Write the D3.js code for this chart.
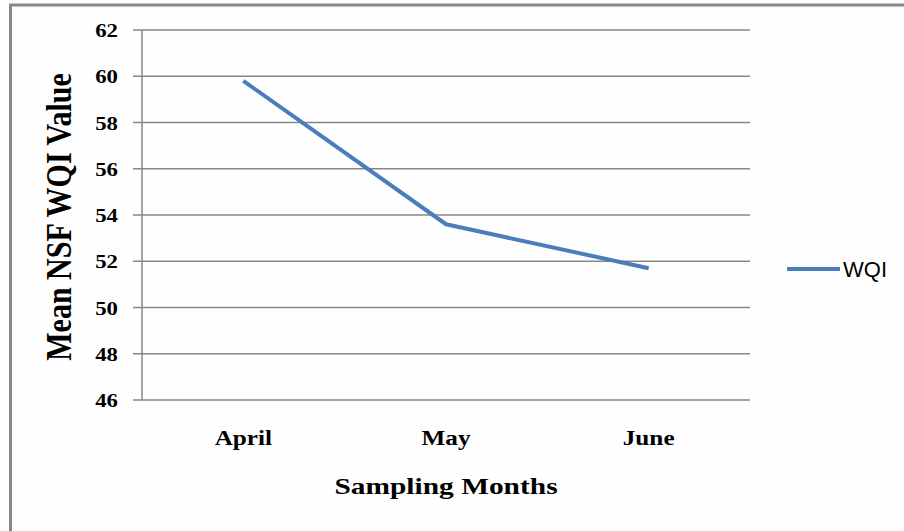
<!DOCTYPE html>
<html>
<head>
<meta charset="utf-8">
<script src="https://cdn.jsdelivr.net/npm/d3@7"></script>
<style>
  body { margin: 0; background: #fefefe; }
  svg { display: block; }
</style>
</head>
<body>
<div id="chart"></div>
<script>
var months = ["April", "May", "June"];
var wqiValues = [59.8, 53.6, 51.7];
var yTicks = [46, 48, 50, 52, 54, 56, 58, 60, 62];
var seriesName = "WQI";

var svgWidth = 904;
var svgHeight = 531;

var plot = { left: 142, right: 750, top: 30, bottom: 400 };

var svg = d3.select("#chart")
  .append("svg")
  .attr("width", svgWidth)
  .attr("height", svgHeight);

// outer frame (only top and left edges show)
svg.append("line")
  .attr("x1", 9).attr("x2", svgWidth).attr("y1", 5).attr("y2", 5)
  .attr("stroke", "#888").attr("stroke-width", 3);
svg.append("line")
  .attr("x1", 10.5).attr("x2", 10.5).attr("y1", 4).attr("y2", svgHeight)
  .attr("stroke", "#888").attr("stroke-width", 3);

var x = d3.scaleBand()
  .domain(months)
  .range([plot.left, plot.right]);

var y = d3.scaleLinear()
  .domain([46, 62])
  .range([plot.bottom, plot.top]);

// gridlines, running 9px left of the axis as tick marks
svg.selectAll(".grid")
  .data(yTicks)
  .enter().append("line")
  .attr("class", "grid")
  .attr("x1", plot.left - 9)
  .attr("x2", plot.right)
  .attr("y1", d => y(d))
  .attr("y2", d => y(d))
  .attr("stroke", "#868686")
  .attr("stroke-width", 1.5);

// vertical axis line
svg.append("line")
  .attr("x1", plot.left).attr("x2", plot.left)
  .attr("y1", y(62)).attr("y2", y(46))
  .attr("stroke", "#868686").attr("stroke-width", 1.5);

// y tick labels
svg.selectAll(".ylab")
  .data(yTicks)
  .enter().append("text")
  .attr("class", "ylab")
  .attr("transform", d => `translate(118, ${y(d) + 7}) scale(1.2,1)`)
  .attr("text-anchor", "end")
  .attr("font-family", "Liberation Serif, Times New Roman, serif")
  .attr("font-weight", "bold")
  .attr("font-size", 19)
  .attr("fill", "#000")
  .text(d => d);

// x category labels
svg.selectAll(".xlab")
  .data(months)
  .enter().append("text")
  .attr("class", "xlab")
  .attr("transform", d => `translate(${x(d) + x.bandwidth() / 2}, 445) scale(1.2,1)`)
  .attr("text-anchor", "middle")
  .attr("font-family", "Liberation Serif, Times New Roman, serif")
  .attr("font-weight", "bold")
  .attr("font-size", 21)
  .attr("fill", "#000")
  .text(d => d);

// axis titles
svg.append("text")
  .attr("transform", "translate(446, 494) scale(1.28,1)")
  .attr("text-anchor", "middle")
  .attr("font-family", "Liberation Serif, Times New Roman, serif")
  .attr("font-weight", "bold")
  .attr("font-size", 23)
  .attr("fill", "#000")
  .text("Sampling Months");

svg.append("text")
  .attr("transform", "translate(71, 217) rotate(-90) scale(1,1.2)")
  .attr("text-anchor", "middle")
  .attr("font-family", "Liberation Serif, Times New Roman, serif")
  .attr("font-weight", "bold")
  .attr("font-size", 30)
  .attr("fill", "#000")
  .text("Mean NSF WQI Value");

// the series line
var line = d3.line()
  .x((d, i) => x(months[i]) + x.bandwidth() / 2)
  .y(d => y(d));

svg.append("path")
  .datum(wqiValues)
  .attr("d", line)
  .attr("fill", "none")
  .attr("stroke", "#4a7ebb")
  .attr("stroke-width", 4)
  .attr("stroke-linejoin", "round");

// legend
svg.append("line")
  .attr("x1", 787).attr("x2", 840)
  .attr("y1", 269).attr("y2", 269)
  .attr("stroke", "#4a7ebb")
  .attr("stroke-width", 4);

svg.append("text")
  .attr("x", 843)
  .attr("y", 277)
  .attr("font-family", "Liberation Sans, Arial, sans-serif")
  .attr("font-size", 22)
  .attr("fill", "#000")
  .text(seriesName);
</script>
</body>
</html>
